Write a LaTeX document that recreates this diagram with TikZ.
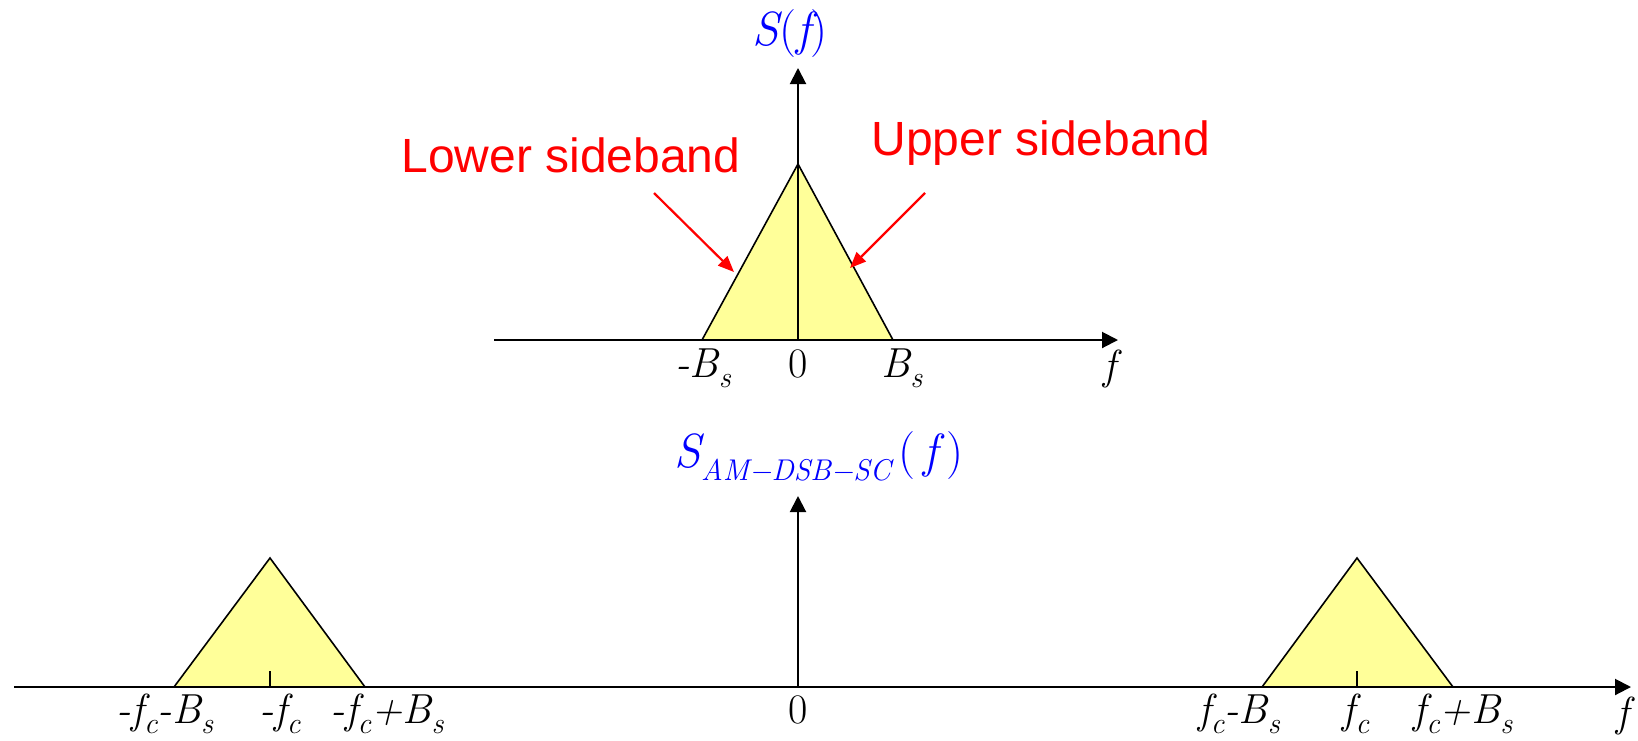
\documentclass[tikz,border=0pt]{standalone}
\usepackage{fontspec}
\newcommand{\timesf}{\rmfamily}
\newfontfamily\arialf{Liberation Sans}
\usetikzlibrary{arrows.meta}
\definecolor{bandfill}{RGB}{255,255,153}
\newcommand{\lsub}[1]{\raisebox{-5pt}{\fontsize{15}{15}\selectfont\itshape #1}}
\begin{document}
\begin{tikzpicture}[x=0.5pt,y=-0.5pt,
  axis/.style={line width=1pt,-{Triangle[length=8pt,width=8pt]}},
  bandline/.style={draw=black,line width=0.8pt,line join=miter},
  tickline/.style={line width=1pt},
  lbl/.style={anchor=base,inner sep=0pt,font=\timesf\fontsize{21}{21}\selectfont\itshape},
  note/.style={anchor=base,inner sep=0pt,text=red,font=\arialf\fontsize{24}{24}\selectfont},
  pointer/.style={red,line width=1.1pt,-{Triangle[length=8pt,width=6.5pt]}},
  ttl/.style={anchor=base,inner sep=0pt,text=blue,font=\timesf\fontsize{24}{24}\selectfont\itshape}]
\useasboundingbox (0,0) rectangle (1638,740);
% ---------- top spectrum ----------
\coordinate (t0) at (798,340);
\coordinate (tl) at (494,340);
\coordinate (tr) at (1118,340);
\coordinate (tt) at (798,68);
\coordinate (tA) at (798,164);
\coordinate (tB1) at (702,340);
\coordinate (tB2) at (893,340);
\fill[bandfill] (tB1) -- (tA) -- (tB2) -- cycle;
\draw[bandline] (tB1) -- (tA) -- (tB2);
\draw[axis] (tl) -- (tr);
\draw[axis] (t0) -- (tt);
\node[ttl] (sf) at (790,45) {S\upshape(\itshape f\upshape)};
\node[note] (lower) at (571,172) {Lower sideband};
\node[note] (upper) at (1041,155) {Upper sideband};
\coordinate (lsfrom) at (654,193);
\coordinate (lsto) at (734,272);
\coordinate (usfrom) at (925,193);
\coordinate (usto) at (850,268);
\draw[pointer] (lsfrom) -- (lsto);
\draw[pointer] (usfrom) -- (usto);
\node[lbl] (mbs) at (703,377) {-B\lsub{s}};
\node[lbl] (zt) at (798,377) {\upshape 0};
\node[lbl] (pbs) at (902,377) {B\lsub{s}};
\node[lbl] (ft) at (1110,379) {f};
% ---------- bottom spectrum ----------
\coordinate (b0) at (798,687);
\coordinate (bl) at (14,687);
\coordinate (br) at (1631,687);
\coordinate (bt) at (798,496);
\coordinate (lA) at (270,558);
\coordinate (lB1) at (174,687);
\coordinate (lB2) at (365,687);
\coordinate (lT) at (270,671);
\coordinate (lTb) at (270,687);
\coordinate (rA) at (1357,558);
\coordinate (rB1) at (1262,687);
\coordinate (rB2) at (1453,687);
\coordinate (rT) at (1357,671);
\coordinate (rTb) at (1357,687);
\fill[bandfill] (lB1) -- (lA) -- (lB2) -- cycle;
\draw[bandline] (lB1) -- (lA) -- (lB2);
\fill[bandfill] (rB1) -- (rA) -- (rB2) -- cycle;
\draw[bandline] (rB1) -- (rA) -- (rB2);
\draw[tickline] (lT) -- (lTb);
\draw[tickline] (rT) -- (rTb);
\draw[axis] (bl) -- (br);
\draw[axis] (b0) -- (bt);
\node[ttl] (sam) at (819,467) {S\raisebox{-6.5pt}{\fontsize{15}{15}\selectfont AM−DSB−SC}\,\upshape(\,\itshape f\,\upshape)};
\node[lbl] (l1) at (165,723) {-f\lsub{c}-B\lsub{s}};
\node[lbl] (l2) at (280,723) {-f\lsub{c}};
\node[lbl] (l3) at (387,723) {-f\lsub{c}+B\lsub{s}};
\node[lbl] (zb) at (798,723) {\upshape 0};
\node[lbl] (r1) at (1239,723) {f\lsub{c}-B\lsub{s}};
\node[lbl] (r2) at (1356,723) {f\lsub{c}};
\node[lbl] (r3) at (1463,723) {f\lsub{c}+B\lsub{s}};
\node[lbl] (fb) at (1623,726) {f};
\end{tikzpicture}
\end{document}
